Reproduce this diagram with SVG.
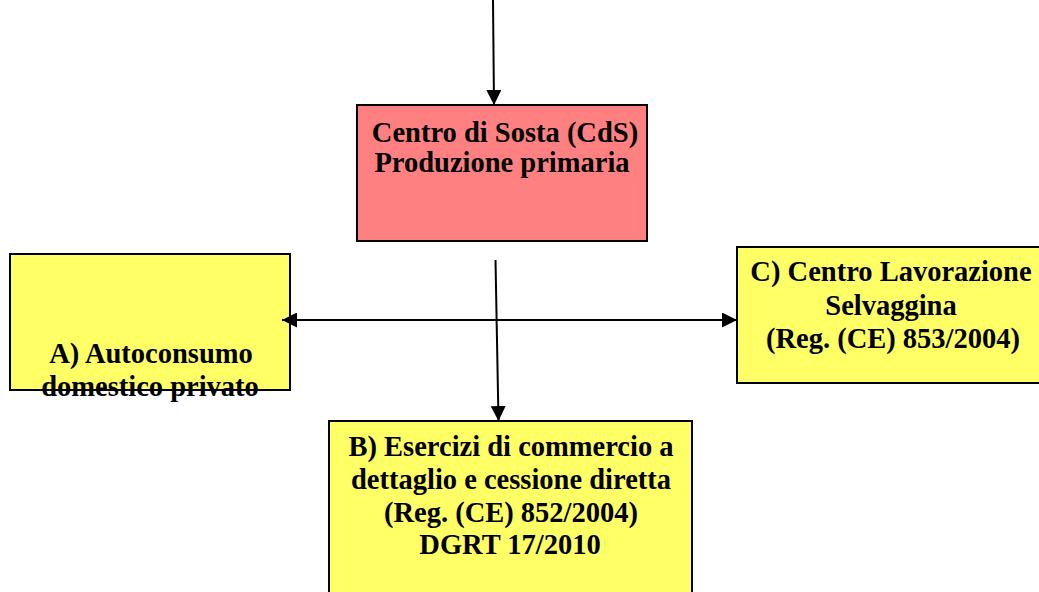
<svg xmlns="http://www.w3.org/2000/svg" width="1039" height="592" viewBox="0 0 1039 592">
<style>
.box{stroke:#000;stroke-width:2}
.pink{fill:#ff8080}
.yel{fill:#ffff66}
.t{font-family:"Liberation Serif","Times New Roman",serif;font-weight:bold;font-size:28.5px;fill:#000;text-anchor:middle}
.c{stroke:#000;stroke-width:2;fill:none}
</style>
<defs>
<marker id="ah" viewBox="0 0 15 15" refX="15" refY="7.5" markerWidth="15" markerHeight="15" markerUnits="userSpaceOnUse" orient="auto-start-reverse">
<path d="M0,0 L15,7.5 L0,15 Z" fill="#000"/>
</marker>
</defs>
<rect x="0" y="0" width="1039" height="592" fill="#fff"/>
<g id="cds">
<rect class="box pink" x="357" y="105" width="290" height="136"/>
<text class="t" x="505" y="141.5">Centro di Sosta (CdS)</text>
<text class="t" x="502" y="172">Produzione primaria</text>
</g>
<g id="nodeA">
<rect class="box yel" x="10" y="254" width="280" height="136"/>
<text class="t" x="151" y="363">A) Autoconsumo</text>
<text class="t" x="150" y="396">domestico privato</text>
</g>
<g id="nodeC">
<rect class="box yel" x="737" y="247" width="310" height="136"/>
<text class="t" x="891" y="281">C) Centro Lavorazione</text>
<text class="t" x="891" y="315">Selvaggina</text>
<text class="t" x="893" y="348">(Reg. (CE) 853/2004)</text>
</g>
<g id="nodeB">
<rect class="box yel" x="329" y="421" width="363" height="180"/>
<text class="t" x="511" y="456">B) Esercizi di commercio a</text>
<text class="t" x="511" y="488.5">dettaglio e cessione diretta</text>
<text class="t" x="511" y="521.5">(Reg. (CE) 852/2004)</text>
<text class="t" x="510" y="554">DGRT 17/2010</text>
</g>
<g id="connectors">
<line class="c" x1="493" y1="0" x2="494" y2="105" marker-end="url(#ah)"/>
<line class="c" x1="282" y1="320" x2="737" y2="320" marker-start="url(#ah)" marker-end="url(#ah)"/>
<line class="c" x1="495.5" y1="260" x2="498.5" y2="421" marker-end="url(#ah)"/>
</g>
</svg>
